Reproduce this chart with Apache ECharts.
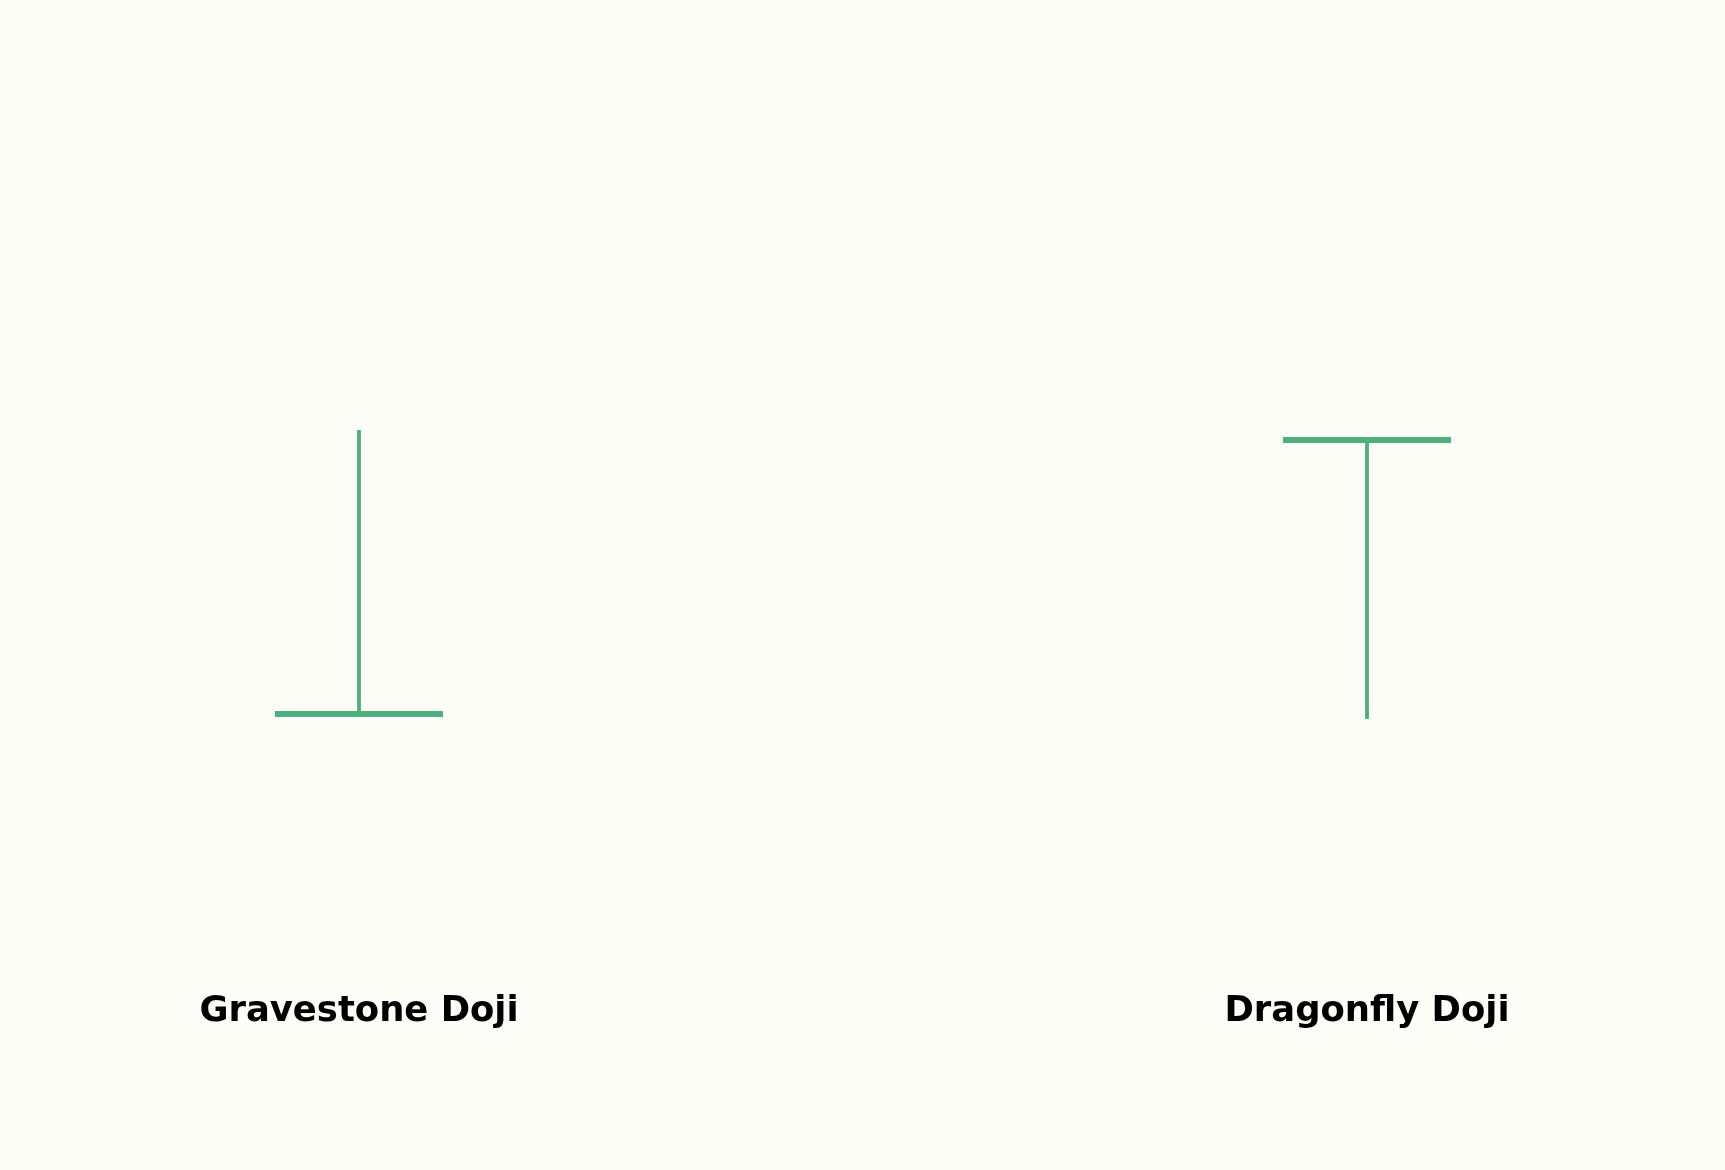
<!DOCTYPE html>
<html>
<head>
<meta charset="utf-8">
<title>Doji</title>
<script src="https://cdn.jsdelivr.net/npm/echarts@6/dist/echarts.min.js"></script>
<style>
  html, body { margin: 0; padding: 0; background: #fdfdf8; }
  #main { width: 1725px; height: 1170px; }
</style>
</head>
<body>
<div id="main"></div>
<script>
// patterns shown
var patterns = ['Gravestone Doji', 'Dragonfly Doji'];
// open, close, low, high
var opens  = [1.7, 96.5];
var closes = [1.7, 96.5];
var lows   = [1.7, 0];
var highs  = [100, 96.5];

var green = '#4caf7d';

var chart = echarts.init(document.getElementById('main'));

var data = patterns.map(function (p, i) {
  return [i, opens[i], closes[i], lows[i], highs[i]];
});

// draw wick + flat body
function renderDoji(params, api) {
  var x = api.value(0);
  var top = api.coord([x, api.value(4)]);
  var bottom = api.coord([x, api.value(3)]);
  var body = api.coord([x, api.value(1)]);
  var half = 84;
  return {
    type: 'group',
    children: [{
      type: 'line',
      shape: { x1: top[0], y1: top[1], x2: bottom[0], y2: bottom[1] },
      style: { stroke: green, lineWidth: 3.8 }
    }, {
      type: 'rect',
      shape: { x: body[0] - half, y: body[1] - 3, width: half * 2, height: 6 },
      style: { fill: green }
    }]
  };
}

var option = {
  backgroundColor: '#fdfdf8',
  animation: false,
  grid: { left: 359, right: 358, top: 430, bottom: 451 },
  xAxis: {
    type: 'category',
    data: patterns,
    boundaryGap: false,
    axisLine: { show: false },
    axisTick: { show: false },
    axisLabel: {
      margin: 293,
      verticalAlign: 'middle',
      color: '#000',
      fontSize: 35.4,
      fontWeight: 'bold',
      fontFamily: 'DejaVu Sans'
    }
  },
  yAxis: {
    type: 'value',
    min: 0,
    max: 100,
    show: false,
    splitLine: { show: false }
  },
  series: [{
    type: 'custom',
    renderItem: renderDoji,
    data: data,
    encode: { x: 0, y: [1, 2, 3, 4] }
  }]
};

chart.setOption(option);
</script>
</body>
</html>
